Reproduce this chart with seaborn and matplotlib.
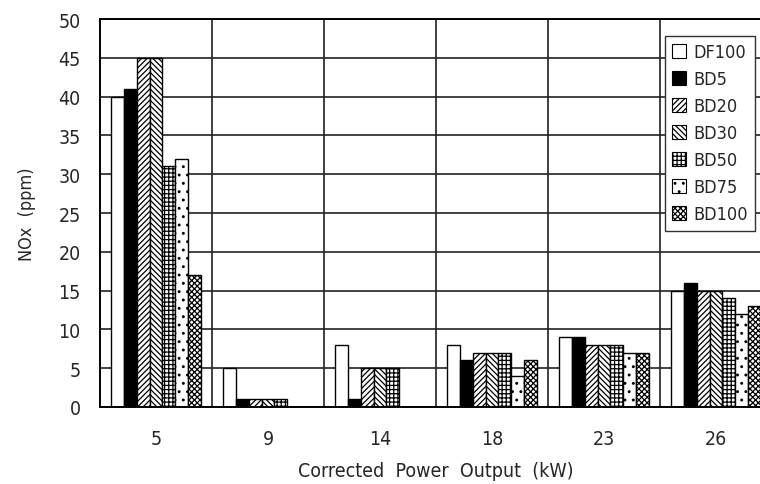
import numpy as np
import pandas as pd
import matplotlib
matplotlib.use("Agg")
import matplotlib.pyplot as plt
from matplotlib.patches import Patch
from matplotlib import font_manager
import seaborn as sns

# NOx emissions by fuel blend at each corrected power output
power = ["5", "9", "14", "18", "23", "26"]
blends = ["DF100", "BD5", "BD20", "BD30", "BD50", "BD75", "BD100"]
df100 = [40, 5, 8, 8, 9, 15]
bd5 = [41, 1, 1, 6, 9, 16]
bd20 = [45, 1, 5, 7, 8, 15]
bd30 = [45, 1, 5, 7, 8, 15]
bd50 = [31, 1, 5, 7, 8, 14]
bd75 = [32, 0, 0, 4, 7, 12]
bd100 = [17, 0, 0, 6, 7, 13]
y_ticks = [0, 5, 10, 15, 20, 25, 30, 35, 40, 45, 50]

series = [df100, bd5, bd20, bd30, bd50, bd75, bd100]
data = pd.DataFrame(
    [(p, b, v) for b, vals in zip(blends, series) for p, v in zip(power, vals)],
    columns=["power", "blend", "nox"],
)

sns.set_style("white")
# prefer a narrow face when one is present
names = {f.name for f in font_manager.fontManager.ttflist}
narrow = [n for n in ("Liberation Sans Narrow", "Arial Narrow") if n in names]
plt.rcParams["font.family"] = narrow + ["DejaVu Sans"]
plt.rcParams["font.stretch"] = "condensed"
plt.rcParams["hatch.linewidth"] = 0.9
plt.rcParams["hatch.color"] = "black"

styles = {
    "DF100": dict(facecolor="white", hatch=None),
    "BD5": dict(facecolor="black", hatch=None),
    "BD20": dict(facecolor="white", hatch="//////"),
    "BD30": dict(facecolor="white", hatch="\\\\\\\\\\\\"),
    "BD50": dict(facecolor="white", hatch="++++"),
    "BD75": dict(facecolor="white", hatch=".."),
    "BD100": dict(facecolor="white", hatch="xxxxxx"),
}

fig = plt.figure(figsize=(7.6, 4.85), dpi=100)
ax = fig.add_axes([100 / 760, 77 / 485, 672 / 760, 388 / 485])

sns.barplot(data=data, x="power", y="nox", hue="blend", order=power,
            hue_order=blends, width=0.8, ax=ax, errorbar=None,
            edgecolor="black", linewidth=1.0)

for name, cont in zip(blends, ax.containers):
    for bar in cont:
        bar.set_facecolor(styles[name]["facecolor"])
        bar.set_edgecolor("black")
        if styles[name]["hatch"]:
            bar.set_hatch(styles[name]["hatch"])

ax.set_xlim(-0.5, len(power) - 0.5)
ax.set_ylim(0, 50)
ax.set_yticks(y_ticks)
ax.set_xticks(np.arange(len(power)) + 0.5, minor=True)
ax.set_axisbelow(True)
ax.grid(axis="y", which="major", color="#222222", linewidth=1.2)
ax.grid(axis="x", which="minor", color="#222222", linewidth=1.2)
ax.grid(axis="x", which="major", visible=False)
for s in ax.spines.values():
    s.set_color("black")
    s.set_linewidth(1.4)

ax.tick_params(axis="both", which="both", length=0)
ax.tick_params(axis="y", pad=14, labelsize=14)
ax.tick_params(axis="x", pad=16, labelsize=14)
ax.set_xlabel("Corrected  Power  Output  (kW)", fontsize=14, labelpad=9)
ax.set_ylabel("NOx  (ppm)", fontsize=13, labelpad=16)

handles = [Patch(facecolor=styles[b]["facecolor"], edgecolor="black",
                 hatch=styles[b]["hatch"], linewidth=0.8, label=b) for b in blends]
if ax.get_legend() is not None:
    ax.get_legend().remove()
leg = fig.legend(handles=handles, loc="upper left",
                 bbox_to_anchor=(665 / 760, 1 - 37 / 485),
                 fontsize=13, frameon=True, fancybox=False,
                 handlelength=0.75, handleheight=0.75, handletextpad=0.4,
                 labelspacing=0.5, borderpad=0.4, borderaxespad=0)
leg.get_frame().set_edgecolor("#333333")
leg.get_frame().set_linewidth(1.0)
leg.get_frame().set_facecolor("white")
leg.get_frame().set_alpha(1)

fig.savefig("out.png", dpi=100)
